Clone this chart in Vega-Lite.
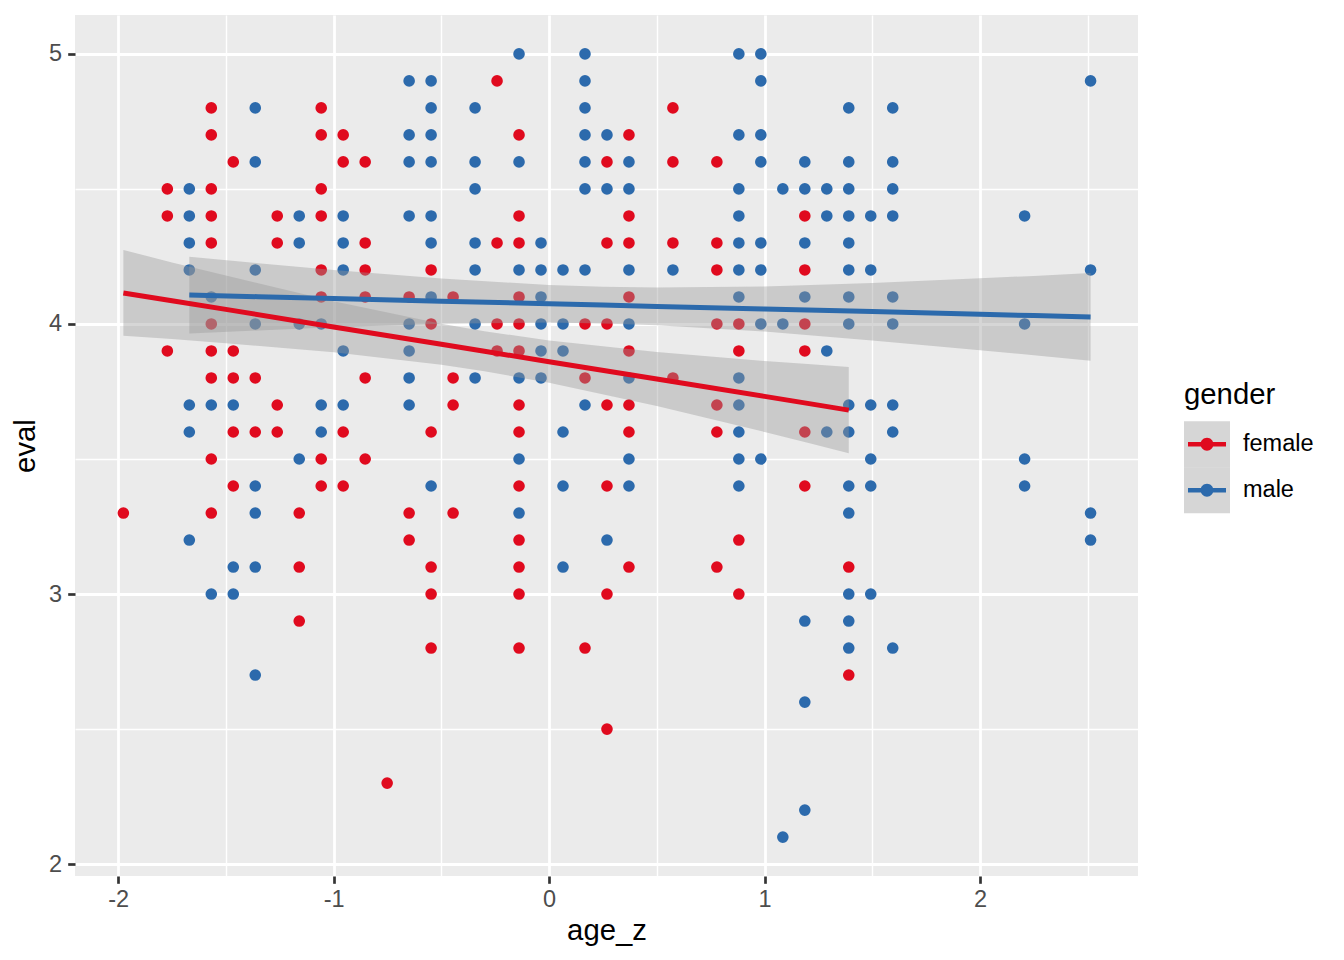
{
  "$schema": "https://vega.github.io/schema/vega-lite/v6.json",
  "width": 1063,
  "height": 861,
  "autosize": {"type": "none"},
  "padding": {"left": 75, "top": 15, "right": 206, "bottom": 84},
  "datasets": {
    "pts": [
      {"age_z": -1.9755, "eval": 3.3, "gender": "female"},
      {"age_z": -1.7715, "eval": 4.5, "gender": "female"},
      {"age_z": -1.7715, "eval": 4.4, "gender": "female"},
      {"age_z": -1.7715, "eval": 3.9, "gender": "female"},
      {"age_z": -1.5675, "eval": 4.8, "gender": "female"},
      {"age_z": -1.5675, "eval": 4.7, "gender": "female"},
      {"age_z": -1.5675, "eval": 4.5, "gender": "female"},
      {"age_z": -1.5675, "eval": 4.4, "gender": "female"},
      {"age_z": -1.5675, "eval": 4.3, "gender": "female"},
      {"age_z": -1.5675, "eval": 4.0, "gender": "female"},
      {"age_z": -1.5675, "eval": 3.9, "gender": "female"},
      {"age_z": -1.5675, "eval": 3.8, "gender": "female"},
      {"age_z": -1.5675, "eval": 3.5, "gender": "female"},
      {"age_z": -1.5675, "eval": 3.3, "gender": "female"},
      {"age_z": -1.4655, "eval": 4.6, "gender": "female"},
      {"age_z": -1.4655, "eval": 3.9, "gender": "female"},
      {"age_z": -1.4655, "eval": 3.8, "gender": "female"},
      {"age_z": -1.4655, "eval": 3.6, "gender": "female"},
      {"age_z": -1.4655, "eval": 3.4, "gender": "female"},
      {"age_z": -1.3635, "eval": 3.8, "gender": "female"},
      {"age_z": -1.3635, "eval": 3.6, "gender": "female"},
      {"age_z": -1.2615, "eval": 4.4, "gender": "female"},
      {"age_z": -1.2615, "eval": 4.3, "gender": "female"},
      {"age_z": -1.2615, "eval": 3.7, "gender": "female"},
      {"age_z": -1.2615, "eval": 3.6, "gender": "female"},
      {"age_z": -1.1594, "eval": 3.3, "gender": "female"},
      {"age_z": -1.1594, "eval": 3.1, "gender": "female"},
      {"age_z": -1.1594, "eval": 2.9, "gender": "female"},
      {"age_z": -1.0574, "eval": 4.8, "gender": "female"},
      {"age_z": -1.0574, "eval": 4.7, "gender": "female"},
      {"age_z": -1.0574, "eval": 4.5, "gender": "female"},
      {"age_z": -1.0574, "eval": 4.4, "gender": "female"},
      {"age_z": -1.0574, "eval": 4.2, "gender": "female"},
      {"age_z": -1.0574, "eval": 4.1, "gender": "female"},
      {"age_z": -1.0574, "eval": 3.5, "gender": "female"},
      {"age_z": -1.0574, "eval": 3.4, "gender": "female"},
      {"age_z": -0.9554, "eval": 4.7, "gender": "female"},
      {"age_z": -0.9554, "eval": 4.6, "gender": "female"},
      {"age_z": -0.9554, "eval": 3.6, "gender": "female"},
      {"age_z": -0.9554, "eval": 3.4, "gender": "female"},
      {"age_z": -0.8534, "eval": 4.6, "gender": "female"},
      {"age_z": -0.8534, "eval": 4.3, "gender": "female"},
      {"age_z": -0.8534, "eval": 4.2, "gender": "female"},
      {"age_z": -0.8534, "eval": 4.1, "gender": "female"},
      {"age_z": -0.8534, "eval": 3.8, "gender": "female"},
      {"age_z": -0.8534, "eval": 3.5, "gender": "female"},
      {"age_z": -0.7514, "eval": 2.3, "gender": "female"},
      {"age_z": -0.6494, "eval": 4.1, "gender": "female"},
      {"age_z": -0.6494, "eval": 3.3, "gender": "female"},
      {"age_z": -0.6494, "eval": 3.2, "gender": "female"},
      {"age_z": -0.5474, "eval": 4.2, "gender": "female"},
      {"age_z": -0.5474, "eval": 4.0, "gender": "female"},
      {"age_z": -0.5474, "eval": 3.6, "gender": "female"},
      {"age_z": -0.5474, "eval": 3.1, "gender": "female"},
      {"age_z": -0.5474, "eval": 3.0, "gender": "female"},
      {"age_z": -0.5474, "eval": 2.8, "gender": "female"},
      {"age_z": -0.4454, "eval": 4.1, "gender": "female"},
      {"age_z": -0.4454, "eval": 3.8, "gender": "female"},
      {"age_z": -0.4454, "eval": 3.7, "gender": "female"},
      {"age_z": -0.4454, "eval": 3.3, "gender": "female"},
      {"age_z": -0.2414, "eval": 4.9, "gender": "female"},
      {"age_z": -0.2414, "eval": 4.3, "gender": "female"},
      {"age_z": -0.2414, "eval": 4.0, "gender": "female"},
      {"age_z": -0.2414, "eval": 3.9, "gender": "female"},
      {"age_z": -0.1394, "eval": 4.7, "gender": "female"},
      {"age_z": -0.1394, "eval": 4.4, "gender": "female"},
      {"age_z": -0.1394, "eval": 4.3, "gender": "female"},
      {"age_z": -0.1394, "eval": 4.1, "gender": "female"},
      {"age_z": -0.1394, "eval": 4.0, "gender": "female"},
      {"age_z": -0.1394, "eval": 3.9, "gender": "female"},
      {"age_z": -0.1394, "eval": 3.7, "gender": "female"},
      {"age_z": -0.1394, "eval": 3.6, "gender": "female"},
      {"age_z": -0.1394, "eval": 3.4, "gender": "female"},
      {"age_z": -0.1394, "eval": 3.2, "gender": "female"},
      {"age_z": -0.1394, "eval": 3.1, "gender": "female"},
      {"age_z": -0.1394, "eval": 3.0, "gender": "female"},
      {"age_z": -0.1394, "eval": 2.8, "gender": "female"},
      {"age_z": 0.1667, "eval": 4.0, "gender": "female"},
      {"age_z": 0.1667, "eval": 3.8, "gender": "female"},
      {"age_z": 0.1667, "eval": 2.8, "gender": "female"},
      {"age_z": 0.2687, "eval": 4.6, "gender": "female"},
      {"age_z": 0.2687, "eval": 4.3, "gender": "female"},
      {"age_z": 0.2687, "eval": 4.0, "gender": "female"},
      {"age_z": 0.2687, "eval": 3.7, "gender": "female"},
      {"age_z": 0.2687, "eval": 3.4, "gender": "female"},
      {"age_z": 0.2687, "eval": 3.0, "gender": "female"},
      {"age_z": 0.2687, "eval": 2.5, "gender": "female"},
      {"age_z": 0.3707, "eval": 4.7, "gender": "female"},
      {"age_z": 0.3707, "eval": 4.4, "gender": "female"},
      {"age_z": 0.3707, "eval": 4.3, "gender": "female"},
      {"age_z": 0.3707, "eval": 4.1, "gender": "female"},
      {"age_z": 0.3707, "eval": 3.9, "gender": "female"},
      {"age_z": 0.3707, "eval": 3.7, "gender": "female"},
      {"age_z": 0.3707, "eval": 3.6, "gender": "female"},
      {"age_z": 0.3707, "eval": 3.1, "gender": "female"},
      {"age_z": 0.5747, "eval": 4.8, "gender": "female"},
      {"age_z": 0.5747, "eval": 4.6, "gender": "female"},
      {"age_z": 0.5747, "eval": 4.3, "gender": "female"},
      {"age_z": 0.5747, "eval": 3.8, "gender": "female"},
      {"age_z": 0.7787, "eval": 4.6, "gender": "female"},
      {"age_z": 0.7787, "eval": 4.3, "gender": "female"},
      {"age_z": 0.7787, "eval": 4.2, "gender": "female"},
      {"age_z": 0.7787, "eval": 4.0, "gender": "female"},
      {"age_z": 0.7787, "eval": 3.7, "gender": "female"},
      {"age_z": 0.7787, "eval": 3.6, "gender": "female"},
      {"age_z": 0.7787, "eval": 3.1, "gender": "female"},
      {"age_z": 0.8807, "eval": 4.0, "gender": "female"},
      {"age_z": 0.8807, "eval": 3.9, "gender": "female"},
      {"age_z": 0.8807, "eval": 3.2, "gender": "female"},
      {"age_z": 0.8807, "eval": 3.0, "gender": "female"},
      {"age_z": 1.1868, "eval": 4.4, "gender": "female"},
      {"age_z": 1.1868, "eval": 4.2, "gender": "female"},
      {"age_z": 1.1868, "eval": 4.0, "gender": "female"},
      {"age_z": 1.1868, "eval": 3.9, "gender": "female"},
      {"age_z": 1.1868, "eval": 3.6, "gender": "female"},
      {"age_z": 1.1868, "eval": 3.4, "gender": "female"},
      {"age_z": 1.3908, "eval": 3.1, "gender": "female"},
      {"age_z": 1.3908, "eval": 2.7, "gender": "female"},
      {"age_z": -1.6695, "eval": 4.5, "gender": "male"},
      {"age_z": -1.6695, "eval": 4.4, "gender": "male"},
      {"age_z": -1.6695, "eval": 4.3, "gender": "male"},
      {"age_z": -1.6695, "eval": 4.2, "gender": "male"},
      {"age_z": -1.6695, "eval": 3.7, "gender": "male"},
      {"age_z": -1.6695, "eval": 3.6, "gender": "male"},
      {"age_z": -1.6695, "eval": 3.2, "gender": "male"},
      {"age_z": -1.5675, "eval": 4.1, "gender": "male"},
      {"age_z": -1.5675, "eval": 3.7, "gender": "male"},
      {"age_z": -1.5675, "eval": 3.0, "gender": "male"},
      {"age_z": -1.4655, "eval": 3.7, "gender": "male"},
      {"age_z": -1.4655, "eval": 3.1, "gender": "male"},
      {"age_z": -1.4655, "eval": 3.0, "gender": "male"},
      {"age_z": -1.3635, "eval": 4.8, "gender": "male"},
      {"age_z": -1.3635, "eval": 4.6, "gender": "male"},
      {"age_z": -1.3635, "eval": 4.2, "gender": "male"},
      {"age_z": -1.3635, "eval": 4.0, "gender": "male"},
      {"age_z": -1.3635, "eval": 3.4, "gender": "male"},
      {"age_z": -1.3635, "eval": 3.3, "gender": "male"},
      {"age_z": -1.3635, "eval": 3.1, "gender": "male"},
      {"age_z": -1.3635, "eval": 2.7, "gender": "male"},
      {"age_z": -1.1594, "eval": 4.4, "gender": "male"},
      {"age_z": -1.1594, "eval": 4.3, "gender": "male"},
      {"age_z": -1.1594, "eval": 4.0, "gender": "male"},
      {"age_z": -1.1594, "eval": 3.5, "gender": "male"},
      {"age_z": -1.0574, "eval": 4.0, "gender": "male"},
      {"age_z": -1.0574, "eval": 3.7, "gender": "male"},
      {"age_z": -1.0574, "eval": 3.6, "gender": "male"},
      {"age_z": -0.9554, "eval": 4.4, "gender": "male"},
      {"age_z": -0.9554, "eval": 4.3, "gender": "male"},
      {"age_z": -0.9554, "eval": 4.2, "gender": "male"},
      {"age_z": -0.9554, "eval": 3.9, "gender": "male"},
      {"age_z": -0.9554, "eval": 3.7, "gender": "male"},
      {"age_z": -0.6494, "eval": 4.9, "gender": "male"},
      {"age_z": -0.6494, "eval": 4.7, "gender": "male"},
      {"age_z": -0.6494, "eval": 4.6, "gender": "male"},
      {"age_z": -0.6494, "eval": 4.4, "gender": "male"},
      {"age_z": -0.6494, "eval": 4.0, "gender": "male"},
      {"age_z": -0.6494, "eval": 3.9, "gender": "male"},
      {"age_z": -0.6494, "eval": 3.8, "gender": "male"},
      {"age_z": -0.6494, "eval": 3.7, "gender": "male"},
      {"age_z": -0.5474, "eval": 4.9, "gender": "male"},
      {"age_z": -0.5474, "eval": 4.8, "gender": "male"},
      {"age_z": -0.5474, "eval": 4.7, "gender": "male"},
      {"age_z": -0.5474, "eval": 4.6, "gender": "male"},
      {"age_z": -0.5474, "eval": 4.4, "gender": "male"},
      {"age_z": -0.5474, "eval": 4.3, "gender": "male"},
      {"age_z": -0.5474, "eval": 4.1, "gender": "male"},
      {"age_z": -0.5474, "eval": 3.4, "gender": "male"},
      {"age_z": -0.3434, "eval": 4.8, "gender": "male"},
      {"age_z": -0.3434, "eval": 4.6, "gender": "male"},
      {"age_z": -0.3434, "eval": 4.5, "gender": "male"},
      {"age_z": -0.3434, "eval": 4.3, "gender": "male"},
      {"age_z": -0.3434, "eval": 4.2, "gender": "male"},
      {"age_z": -0.3434, "eval": 4.0, "gender": "male"},
      {"age_z": -0.3434, "eval": 3.8, "gender": "male"},
      {"age_z": -0.1394, "eval": 5.0, "gender": "male"},
      {"age_z": -0.1394, "eval": 4.6, "gender": "male"},
      {"age_z": -0.1394, "eval": 4.2, "gender": "male"},
      {"age_z": -0.1394, "eval": 3.8, "gender": "male"},
      {"age_z": -0.1394, "eval": 3.5, "gender": "male"},
      {"age_z": -0.1394, "eval": 3.3, "gender": "male"},
      {"age_z": -0.0374, "eval": 4.3, "gender": "male"},
      {"age_z": -0.0374, "eval": 4.2, "gender": "male"},
      {"age_z": -0.0374, "eval": 4.1, "gender": "male"},
      {"age_z": -0.0374, "eval": 4.0, "gender": "male"},
      {"age_z": -0.0374, "eval": 3.9, "gender": "male"},
      {"age_z": -0.0374, "eval": 3.8, "gender": "male"},
      {"age_z": 0.0646, "eval": 4.2, "gender": "male"},
      {"age_z": 0.0646, "eval": 4.0, "gender": "male"},
      {"age_z": 0.0646, "eval": 3.9, "gender": "male"},
      {"age_z": 0.0646, "eval": 3.6, "gender": "male"},
      {"age_z": 0.0646, "eval": 3.4, "gender": "male"},
      {"age_z": 0.0646, "eval": 3.1, "gender": "male"},
      {"age_z": 0.1667, "eval": 5.0, "gender": "male"},
      {"age_z": 0.1667, "eval": 4.9, "gender": "male"},
      {"age_z": 0.1667, "eval": 4.8, "gender": "male"},
      {"age_z": 0.1667, "eval": 4.7, "gender": "male"},
      {"age_z": 0.1667, "eval": 4.6, "gender": "male"},
      {"age_z": 0.1667, "eval": 4.5, "gender": "male"},
      {"age_z": 0.1667, "eval": 4.2, "gender": "male"},
      {"age_z": 0.1667, "eval": 3.7, "gender": "male"},
      {"age_z": 0.2687, "eval": 4.7, "gender": "male"},
      {"age_z": 0.2687, "eval": 4.5, "gender": "male"},
      {"age_z": 0.2687, "eval": 3.2, "gender": "male"},
      {"age_z": 0.3707, "eval": 4.6, "gender": "male"},
      {"age_z": 0.3707, "eval": 4.5, "gender": "male"},
      {"age_z": 0.3707, "eval": 4.2, "gender": "male"},
      {"age_z": 0.3707, "eval": 4.0, "gender": "male"},
      {"age_z": 0.3707, "eval": 3.8, "gender": "male"},
      {"age_z": 0.3707, "eval": 3.5, "gender": "male"},
      {"age_z": 0.3707, "eval": 3.4, "gender": "male"},
      {"age_z": 0.5747, "eval": 4.2, "gender": "male"},
      {"age_z": 0.8807, "eval": 5.0, "gender": "male"},
      {"age_z": 0.8807, "eval": 4.7, "gender": "male"},
      {"age_z": 0.8807, "eval": 4.5, "gender": "male"},
      {"age_z": 0.8807, "eval": 4.4, "gender": "male"},
      {"age_z": 0.8807, "eval": 4.3, "gender": "male"},
      {"age_z": 0.8807, "eval": 4.2, "gender": "male"},
      {"age_z": 0.8807, "eval": 4.1, "gender": "male"},
      {"age_z": 0.8807, "eval": 3.8, "gender": "male"},
      {"age_z": 0.8807, "eval": 3.7, "gender": "male"},
      {"age_z": 0.8807, "eval": 3.6, "gender": "male"},
      {"age_z": 0.8807, "eval": 3.5, "gender": "male"},
      {"age_z": 0.8807, "eval": 3.4, "gender": "male"},
      {"age_z": 0.9827, "eval": 5.0, "gender": "male"},
      {"age_z": 0.9827, "eval": 4.9, "gender": "male"},
      {"age_z": 0.9827, "eval": 4.7, "gender": "male"},
      {"age_z": 0.9827, "eval": 4.6, "gender": "male"},
      {"age_z": 0.9827, "eval": 4.3, "gender": "male"},
      {"age_z": 0.9827, "eval": 4.2, "gender": "male"},
      {"age_z": 0.9827, "eval": 4.0, "gender": "male"},
      {"age_z": 0.9827, "eval": 3.5, "gender": "male"},
      {"age_z": 1.0848, "eval": 4.5, "gender": "male"},
      {"age_z": 1.0848, "eval": 4.0, "gender": "male"},
      {"age_z": 1.0848, "eval": 2.1, "gender": "male"},
      {"age_z": 1.1868, "eval": 4.6, "gender": "male"},
      {"age_z": 1.1868, "eval": 4.5, "gender": "male"},
      {"age_z": 1.1868, "eval": 4.3, "gender": "male"},
      {"age_z": 1.1868, "eval": 4.1, "gender": "male"},
      {"age_z": 1.1868, "eval": 2.9, "gender": "male"},
      {"age_z": 1.1868, "eval": 2.6, "gender": "male"},
      {"age_z": 1.1868, "eval": 2.2, "gender": "male"},
      {"age_z": 1.2888, "eval": 4.5, "gender": "male"},
      {"age_z": 1.2888, "eval": 4.4, "gender": "male"},
      {"age_z": 1.2888, "eval": 3.9, "gender": "male"},
      {"age_z": 1.2888, "eval": 3.6, "gender": "male"},
      {"age_z": 1.3908, "eval": 4.8, "gender": "male"},
      {"age_z": 1.3908, "eval": 4.6, "gender": "male"},
      {"age_z": 1.3908, "eval": 4.5, "gender": "male"},
      {"age_z": 1.3908, "eval": 4.4, "gender": "male"},
      {"age_z": 1.3908, "eval": 4.3, "gender": "male"},
      {"age_z": 1.3908, "eval": 4.2, "gender": "male"},
      {"age_z": 1.3908, "eval": 4.1, "gender": "male"},
      {"age_z": 1.3908, "eval": 4.0, "gender": "male"},
      {"age_z": 1.3908, "eval": 3.7, "gender": "male"},
      {"age_z": 1.3908, "eval": 3.6, "gender": "male"},
      {"age_z": 1.3908, "eval": 3.4, "gender": "male"},
      {"age_z": 1.3908, "eval": 3.3, "gender": "male"},
      {"age_z": 1.3908, "eval": 3.0, "gender": "male"},
      {"age_z": 1.3908, "eval": 2.9, "gender": "male"},
      {"age_z": 1.3908, "eval": 2.8, "gender": "male"},
      {"age_z": 1.4928, "eval": 4.4, "gender": "male"},
      {"age_z": 1.4928, "eval": 4.2, "gender": "male"},
      {"age_z": 1.4928, "eval": 3.7, "gender": "male"},
      {"age_z": 1.4928, "eval": 3.5, "gender": "male"},
      {"age_z": 1.4928, "eval": 3.4, "gender": "male"},
      {"age_z": 1.4928, "eval": 3.0, "gender": "male"},
      {"age_z": 1.5948, "eval": 4.8, "gender": "male"},
      {"age_z": 1.5948, "eval": 4.6, "gender": "male"},
      {"age_z": 1.5948, "eval": 4.5, "gender": "male"},
      {"age_z": 1.5948, "eval": 4.4, "gender": "male"},
      {"age_z": 1.5948, "eval": 4.1, "gender": "male"},
      {"age_z": 1.5948, "eval": 4.0, "gender": "male"},
      {"age_z": 1.5948, "eval": 3.7, "gender": "male"},
      {"age_z": 1.5948, "eval": 3.6, "gender": "male"},
      {"age_z": 1.5948, "eval": 2.8, "gender": "male"},
      {"age_z": 2.2068, "eval": 4.4, "gender": "male"},
      {"age_z": 2.2068, "eval": 4.0, "gender": "male"},
      {"age_z": 2.2068, "eval": 3.5, "gender": "male"},
      {"age_z": 2.2068, "eval": 3.4, "gender": "male"},
      {"age_z": 2.5129, "eval": 4.9, "gender": "male"},
      {"age_z": 2.5129, "eval": 4.2, "gender": "male"},
      {"age_z": 2.5129, "eval": 3.3, "gender": "male"},
      {"age_z": 2.5129, "eval": 3.2, "gender": "male"}
    ],
    "fit": [
      {"gender": "female", "band": "female", "age_z": -1.9755, "fit": 4.115, "lower": 3.956, "upper": 4.274},
      {"gender": "female", "band": "female", "age_z": -1.75, "fit": 4.086, "lower": 3.944, "upper": 4.228},
      {"gender": "female", "band": "female", "age_z": -1.5, "fit": 4.054, "lower": 3.929, "upper": 4.179},
      {"gender": "female", "band": "female", "age_z": -1.0, "fit": 3.989, "lower": 3.895, "upper": 4.084},
      {"gender": "female", "band": "female", "age_z": -0.5, "fit": 3.925, "lower": 3.849, "upper": 4.001},
      {"gender": "female", "band": "female", "age_z": -0.3, "fit": 3.899, "lower": 3.825, "upper": 3.973},
      {"gender": "female", "band": "female", "age_z": 0.0, "fit": 3.860, "lower": 3.782, "upper": 3.939},
      {"gender": "female", "band": "female", "age_z": 0.5, "fit": 3.796, "lower": 3.696, "upper": 3.896},
      {"gender": "female", "band": "female", "age_z": 1.0, "fit": 3.732, "lower": 3.600, "upper": 3.863},
      {"gender": "female", "band": "female", "age_z": 1.2, "fit": 3.706, "lower": 3.560, "upper": 3.852},
      {"gender": "female", "band": "female", "age_z": 1.3908, "fit": 3.681, "lower": 3.521, "upper": 3.841},
      {"gender": "male", "band": "male", "age_z": -1.6695, "fit": 4.107, "lower": 3.965, "upper": 4.249},
      {"gender": "male", "band": "male", "age_z": -1.35, "fit": 4.101, "lower": 3.976, "upper": 4.225},
      {"gender": "male", "band": "male", "age_z": -1.0, "fit": 4.094, "lower": 3.988, "upper": 4.200},
      {"gender": "male", "band": "male", "age_z": -0.5, "fit": 4.084, "lower": 4.001, "upper": 4.168},
      {"gender": "male", "band": "male", "age_z": 0.0, "fit": 4.075, "lower": 4.005, "upper": 4.144},
      {"gender": "male", "band": "male", "age_z": 0.25, "fit": 4.070, "lower": 4.002, "upper": 4.138},
      {"gender": "male", "band": "male", "age_z": 0.5, "fit": 4.065, "lower": 3.995, "upper": 4.135},
      {"gender": "male", "band": "male", "age_z": 1.0, "fit": 4.055, "lower": 3.972, "upper": 4.139},
      {"gender": "male", "band": "male", "age_z": 1.5, "fit": 4.046, "lower": 3.939, "upper": 4.152},
      {"gender": "male", "band": "male", "age_z": 2.0, "fit": 4.036, "lower": 3.903, "upper": 4.169},
      {"gender": "male", "band": "male", "age_z": 2.25, "fit": 4.031, "lower": 3.884, "upper": 4.178},
      {"gender": "male", "band": "male", "age_z": 2.5129, "fit": 4.026, "lower": 3.864, "upper": 4.189}
    ]
  },
  "encoding": {
    "x": {
      "field": "age_z", "type": "quantitative", "title": "age_z",
      "scale": {"domain": [-2.2, 2.733], "nice": false, "zero": false},
      "axis": {
        "values": [-2, -1.5, -1, -0.5, 0, 0.5, 1, 1.5, 2, 2.5],
        "labelExpr": "datum.value % 1 === 0 ? toString(datum.value) : ''",
        "gridWidth": {"condition": {"test": "datum.value % 1 !== 0", "value": 1.4}, "value": 2.8},
        "tickOpacity": {"condition": {"test": "datum.value % 1 !== 0", "value": 0}, "value": 1},
        "labelPadding": 4,
        "titlePadding": 6
      }
    }
  },
  "layer": [
    {
      "data": {"name": "pts"},
      "mark": {"type": "point", "filled": true, "opacity": 1, "size": 135},
      "encoding": {
        "y": {
          "field": "eval", "type": "quantitative", "title": "eval",
          "scale": {"domain": [1.956, 5.144], "nice": false, "zero": false},
          "axis": {
            "values": [2, 2.5, 3, 3.5, 4, 4.5, 5],
            "labelExpr": "datum.value % 1 === 0 ? toString(datum.value) : ''",
            "gridWidth": {"condition": {"test": "datum.value % 1 !== 0", "value": 1.4}, "value": 2.8},
            "tickOpacity": {"condition": {"test": "datum.value % 1 !== 0", "value": 0}, "value": 1},
            "labelPadding": 6,
            "titlePadding": 8
          }
        },
        "color": {
          "field": "gender", "type": "nominal",
          "scale": {"domain": ["female", "male"], "range": ["#E00A1E", "#2C6AAC"]},
          "legend": {
            "orient": "none",
            "legendX": 1109,
            "legendY": 366,
            "zindex": 2,
            "title": "gender",
            "padding": 0,
            "titleFontSize": 29.3,
            "titleFontWeight": "normal",
            "titleColor": "black",
            "titlePadding": 11,
            "labelFontSize": 23.5,
            "labelColor": "black",
            "labelOffset": 13,
            "rowPadding": 0,
            "symbolSize": 2116,
            "symbolStrokeWidth": 0,
            "symbolType": "M -1 -1 L -1 -1 Z M 1 1 L 1 1 Z M -0.826 -0.1 L 0.826 -0.1 L 0.826 0.1 L -0.826 0.1 Z M -0.28 0 A 0.28 0.28 0 1 1 0.28 0 A 0.28 0.28 0 1 1 -0.28 0 Z"
          }
        }
      }
    },
    {
      "data": {"name": "fit"},
      "mark": {"type": "area", "fill": "#999999"},
      "encoding": {
        "y": {"field": "lower", "type": "quantitative", "title": "eval", "scale": {"domain": [1.956, 5.144], "nice": false, "zero": false}},
        "y2": {"field": "upper"},
        "detail": {"field": "gender"},
        "opacity": {
          "field": "band", "type": "nominal",
          "scale": {"range": [0.4, 0.4]},
          "legend": {
            "orient": "none",
            "legendX": 1109,
            "legendY": 366,
            "zindex": 1,
            "title": "gender",
            "titleOpacity": 0,
            "padding": 0,
            "titleFontSize": 29.3,
            "titleFontWeight": "normal",
            "titlePadding": 11,
            "labelFontSize": 23.5,
            "labelOpacity": 0,
            "labelOffset": 13,
            "rowPadding": 0,
            "symbolType": "square",
            "symbolSize": 2116,
            "symbolStrokeWidth": 0,
            "symbolFillColor": "#C6C6C6",
            "encode": {"symbols": {"update": {"opacity": {"value": 1}, "fill": {"value": "#C6C6C6"}}}}
          }
        }
      }
    },
    {
      "data": {"name": "fit"},
      "mark": {"type": "line", "strokeWidth": 5},
      "encoding": {
        "y": {"field": "fit", "type": "quantitative", "title": "eval", "scale": {"domain": [1.956, 5.144], "nice": false, "zero": false}},
        "color": {"field": "gender", "type": "nominal"}
      }
    }
  ],
  "config": {
    "font": "Liberation Sans",
    "view": {"fill": "#EBEBEB", "stroke": null},
    "axis": {
      "domain": false,
      "gridColor": "white",
      "tickColor": "#333333",
      "tickWidth": 2.7,
      "tickSize": 7.3,
      "labelFont": "Liberation Sans",
      "labelFontSize": 23.5,
      "labelColor": "#4D4D4D",
      "labelFlush": false,
      "titleFont": "Liberation Sans",
      "titleFontSize": 29.3,
      "titleFontWeight": "normal",
      "titleColor": "black"
    },
    "legend": {"labelFont": "Liberation Sans", "titleFont": "Liberation Sans"}
  }
}
